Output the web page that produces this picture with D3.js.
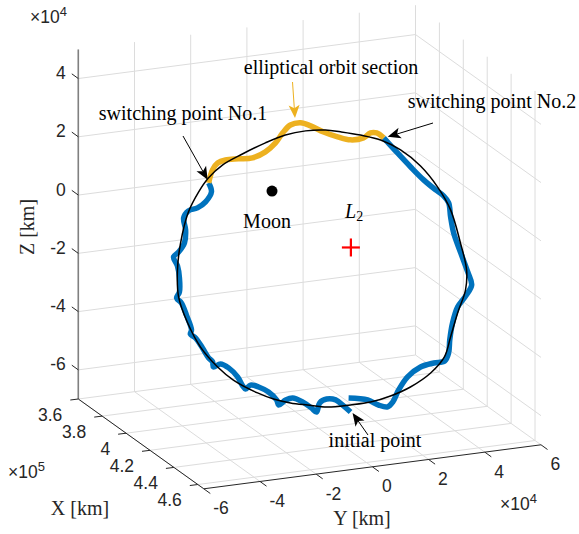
<!DOCTYPE html>
<html><head><meta charset="utf-8">
<script src="https://cdn.jsdelivr.net/npm/d3@7"></script>
<style>body{margin:0;background:#fff}svg{display:block}</style>
</head><body><svg id="c" width="579" height="534"></svg>
<script>
// ---------- axis data ----------
const xLim = [3.6e5, 4.65e5], yLim = [-6e4, 6e4], zLim = [-7e4, 5e4];
const xTicks = [3.6e5, 3.8e5, 4.0e5, 4.2e5, 4.4e5, 4.6e5];
const xTickLabels = ["3.6", "3.8", "4", "4.2", "4.4", "4.6"];
const yTicks = [-6e4, -4e4, -2e4, 0, 2e4, 4e4, 6e4];
const yTickLabels = ["-6", "-4", "-2", "0", "2", "4", "6"];
const zTicks = [-6e4, -4e4, -2e4, 0, 2e4, 4e4];
const zTickLabels = ["-6", "-4", "-2", "0", "2", "4"];

// ---------- orbit data (Y, Z in 1e4 km, orbit plane at X = orbitPlaneX km) ----------
const orbitPlaneX = 4.385e5;
const refY = [-5.81,-5.70,-5.42,-5.06,-4.71,-4.21,-3.50,-2.68,-1.97,-1.25,-0.54,-0.01,0.70,1.42,2.13,2.84,3.45,3.91,4.26,4.48,4.44,4.16,3.91,3.69,3.20,2.48,1.77,1.06,0.35,-0.47,-1.18,-1.79,-2.39,-2.96,-3.82,-4.38,-4.99,-5.45,-5.77];
const refZ = [-0.29,0.62,1.65,2.29,2.73,3.11,3.40,3.68,3.86,3.91,3.85,3.72,3.52,3.26,2.83,2.19,1.39,0.55,-0.63,-1.59,-2.27,-3.02,-3.81,-4.47,-4.96,-5.35,-5.57,-5.69,-5.70,-5.67,-5.51,-5.36,-5.15,-4.87,-4.32,-3.80,-3.04,-2.15,-1.22];

const leg1Y = [0.35,0.10,-0.18,-0.50,-0.75,-0.86,-1.04,-1.36,-1.71,-1.96,-2.21,-2.28,-2.57,-2.92,-3.21,-3.39,-3.49,-3.67,-3.99,-4.28,-4.53,-4.56,-4.70,-4.92,-5.17,-5.35,-5.31,-5.49,-5.67,-5.84,-5.74,-5.74,-5.81,-5.95,-5.77,-5.56,-5.52,-5.59,-5.42,-5.10,-4.81,-4.60,-4.70];
const leg1Z = [-5.94,-5.70,-5.46,-5.39,-5.49,-5.79,-5.63,-5.38,-5.20,-5.24,-5.38,-5.20,-4.89,-4.67,-4.57,-4.68,-4.56,-4.23,-3.88,-3.71,-3.78,-3.60,-3.45,-3.08,-2.70,-2.55,-2.41,-1.88,-1.44,-1.25,-1.05,-0.57,-0.15,0.17,0.32,0.61,1.05,1.47,1.69,1.75,1.92,2.24,2.56];

const ellY = [-4.70,-4.56,-4.38,-4.10,-3.64,-3.14,-2.68,-2.32,-2.07,-1.79,-1.43,-1.07,-0.61,-0.11,0.35,0.81,1.06,1.28,1.53];
const ellZ = [2.56,2.99,3.20,3.27,3.25,3.22,3.37,3.63,3.94,4.18,4.21,4.06,3.79,3.56,3.40,3.41,3.55,3.52,3.32];

const leg2Y = [1.53,2.02,2.49,2.95,3.38,3.66,3.84,3.91,4.02,4.27,4.52,4.66,4.45,4.16,3.98,3.88,3.84,3.70,3.31,2.84,2.38,2.06,1.85,1.67,1.35,0.96,0.28];
const leg2Z = [3.32,2.74,2.20,1.70,1.30,1.06,0.80,0.31,-0.26,-0.97,-1.66,-2.12,-2.47,-2.82,-3.34,-3.91,-4.35,-4.61,-4.63,-4.71,-4.99,-5.40,-5.79,-5.93,-5.83,-5.60,-5.45];

const moonPos = [3.81e5, 0, 0];
const l2Pos = [4.47e5, 0, 0];

// ---------- projection via d3 scales ----------
const O = [78.3, 399];
const EX = [125.5, 89.8], EY = [337.2, -44.0], EZ = [0, -349.6];
const sX = d3.scaleLinear().domain(xLim).range([0, 1]);
const sY = d3.scaleLinear().domain(yLim).range([0, 1]);
const sZ = d3.scaleLinear().domain(zLim).range([0, 1]);
function P(x, y, z) {
  const a = sX(x), b = sY(y), c = sZ(z);
  return [O[0] + a*EX[0] + b*EY[0] + c*EZ[0], O[1] + a*EX[1] + b*EY[1] + c*EZ[1]];
}
const pts = (Ys, Zs) => Ys.map((y, i) => P(orbitPlaneX, y*1e4, Zs[i]*1e4));

const svg = d3.select("#c");
const gGrid = svg.append("g").attr("stroke", "#dcdcdc").attr("stroke-width", 1).attr("fill", "none");
const seg = (g, a, b, attrs={}) => {
  const l = g.append("line").attr("x1", a[0]).attr("y1", a[1]).attr("x2", b[0]).attr("y2", b[1]);
  for (const k in attrs) l.attr(k, attrs[k]);
  return l;
};
// back wall X = xmin
zTicks.forEach(z => seg(gGrid, P(xLim[0], yLim[0], z), P(xLim[0], yLim[1], z)));
yTicks.forEach(y => seg(gGrid, P(xLim[0], y, zLim[0]), P(xLim[0], y, zLim[1])));
// side wall Y = ymax
zTicks.forEach(z => seg(gGrid, P(xLim[0], yLim[1], z), P(xLim[1], yLim[1], z)));
xTicks.forEach(x => seg(gGrid, P(x, yLim[1], zLim[0]), P(x, yLim[1], zLim[1])));
// floor Z = zmin
xTicks.forEach(x => seg(gGrid, P(x, yLim[0], zLim[0]), P(x, yLim[1], zLim[0])));
yTicks.forEach(y => seg(gGrid, P(xLim[0], y, zLim[0]), P(xLim[1], y, zLim[0])));

// axes lines
const gAx = svg.append("g").attr("stroke", "#262626").attr("stroke-width", 1);
seg(gAx, P(xLim[0], yLim[0], zLim[0]), P(xLim[0], yLim[0], zLim[1]), {stroke: "#808080", "stroke-width": 1.6});
seg(gAx, P(xLim[0], yLim[0], zLim[0]), P(xLim[1], yLim[0], zLim[0]));
seg(gAx, P(xLim[1], yLim[0], zLim[0]), P(xLim[1], yLim[1], zLim[0]));

// ticks & labels
const tickFont = "'Liberation Sans', Arial, sans-serif";
const gT = svg.append("g").attr("font-family", tickFont).attr("font-size", 17.5).attr("fill", "#262626");
zTicks.forEach((z, i) => {
  const p = P(xLim[0], yLim[0], z);
  seg(gAx, p, [p[0]-6.5, p[1]-4.7]);
  gT.append("text").attr("x", p[0]-12.5).attr("y", p[1]-5.5).attr("text-anchor", "end")
    .attr("dominant-baseline", "central").text(zTickLabels[i]);
});
xTicks.forEach((x, i) => {
  const p = P(x, yLim[0], zLim[0]);
  seg(gAx, p, [p[0]-8, p[1]+1]);
  gT.append("text").attr("x", p[0]-16).attr("y", p[1]+15.5).attr("text-anchor", "end")
    .attr("dominant-baseline", "central").text(xTickLabels[i]);
});
yTicks.forEach((y, i) => {
  const p = P(xLim[1], y, zLim[0]);
  seg(gAx, p, [p[0]+6.5, p[1]+4.7]);
  gT.append("text").attr("x", p[0]+9.5).attr("y", p[1]+19.5).attr("text-anchor", "start")
    .attr("dominant-baseline", "central").text(yTickLabels[i]);
});
// exponent labels
function expo(x, y, base, ex) {
  const t = gT.append("text").attr("x", x).attr("y", y);
  t.append("tspan").text("\u00d7" + base);
  t.append("tspan").attr("font-size", 13).attr("dy", -7.5).text(ex);
}
expo(30, 23, "10", "4");
expo(8, 478, "10", "5");
expo(500, 510, "10", "4");

// axis titles
const serif = "'Liberation Serif', 'Times New Roman', serif";
const gL = svg.append("g").attr("font-family", serif).attr("font-size", 20).attr("fill", "#262626");
gL.append("text").attr("x", 80).attr("y", 508).attr("text-anchor", "middle").attr("dominant-baseline", "central").text("X [km]");
gL.append("text").attr("x", 362).attr("y", 518).attr("text-anchor", "middle").attr("dominant-baseline", "central").text("Y [km]");
gL.append("text").attr("transform", "translate(27,227) rotate(-90)").attr("text-anchor", "middle").attr("dominant-baseline", "central").text("Z [km]");

// ---------- orbit lines ----------
const line = d3.line().curve(d3.curveCatmullRom.alpha(0.5));
const closed = d3.line().curve(d3.curveCatmullRomClosed.alpha(0.5));
const gO = svg.append("g").attr("fill", "none");
gO.append("path").attr("d", line(pts(leg1Y, leg1Z))).attr("stroke", "#0072BD").attr("stroke-width", 5.5).attr("stroke-linejoin", "round");
gO.append("path").attr("d", line(pts(leg2Y, leg2Z))).attr("stroke", "#0072BD").attr("stroke-width", 5.5).attr("stroke-linejoin", "round");
gO.append("path").attr("d", line(pts(ellY, ellZ))).attr("stroke", "#EDB120").attr("stroke-width", 5.5).attr("stroke-linejoin", "round");
gO.append("path").attr("d", closed(pts(refY, refZ))).attr("stroke", "#000").attr("stroke-width", 1.5);

// Moon & L2
const pm = P(...moonPos);
svg.append("circle").attr("cx", pm[0]).attr("cy", pm[1]).attr("r", 5.5).attr("fill", "#000");
const pl = P(...l2Pos);
const gP = svg.append("g").attr("stroke", "#ff0000").attr("stroke-width", 2.2);
seg(gP, [pl[0]-9, pl[1]], [pl[0]+9, pl[1]]);
seg(gP, [pl[0], pl[1]-9], [pl[0], pl[1]+9]);

// ---------- annotations ----------
const gA = svg.append("g").attr("font-family", serif).attr("font-size", 20).attr("fill", "#000");
gA.append("text").attr("x", 267).attr("y", 228).attr("text-anchor", "middle").text("Moon");
const l2t = gA.append("text").attr("x", 345).attr("y", 218);
l2t.append("tspan").attr("font-style", "italic").text("L");
l2t.append("tspan").attr("font-size", 14).attr("dy", 3).text("2");
gA.append("text").attr("x", 331).attr("y", 74).attr("text-anchor", "middle").text("elliptical orbit section");
gA.append("text").attr("x", 183).attr("y", 120).attr("text-anchor", "middle").text("switching point No.1");
gA.append("text").attr("x", 492).attr("y", 108).attr("text-anchor", "middle").text("switching point No.2");
gA.append("text").attr("x", 375).attr("y", 447).attr("text-anchor", "middle").text("initial point");

function arrow(tail, tip, color) {
  const dx = tip[0]-tail[0], dy = tip[1]-tail[1], L = Math.hypot(dx, dy);
  const ux = dx/L, uy = dy/L, nx = -uy, ny = ux;
  const hl = 13, hw = 5.5;
  const back = [tip[0]-ux*hl, tip[1]-uy*hl];
  const notch = [tip[0]-ux*hl*0.75, tip[1]-uy*hl*0.75];
  svg.append("line").attr("x1", tail[0]).attr("y1", tail[1]).attr("x2", notch[0]).attr("y2", notch[1])
    .attr("stroke", color).attr("stroke-width", 1);
  svg.append("polygon").attr("points", [tip, [back[0]+nx*hw, back[1]+ny*hw], notch, [back[0]-nx*hw, back[1]-ny*hw]].map(p => p.join(",")).join(" "))
    .attr("fill", color);
}
const sp1 = pts(ellY, ellZ)[0], sp2 = pts(ellY, ellZ)[ellY.length-1], ip = pts(leg1Y, leg1Z)[0];
arrow([183, 136], [sp1[0]-1, sp1[1]-3], "#000");
arrow([433, 123], [sp2[0]+4, sp2[1]-1], "#000");
arrow([368, 435], [ip[0]+2, ip[1]+1], "#000");
arrow([292.5, 82], [295, 118], "#EDB120");
</script>
</body></html>
